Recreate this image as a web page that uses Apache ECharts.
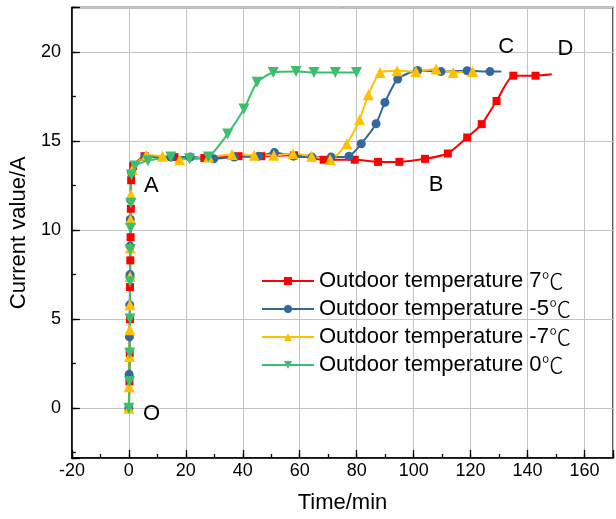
<!DOCTYPE html>
<html>
<head>
<meta charset="utf-8">
<script src="https://cdn.jsdelivr.net/npm/echarts@6/dist/echarts.min.js"></script>
<style>
    html, body { margin: 0; padding: 0; background: #fff; }
    #chart { width: 616px; height: 519px; }
</style>
</head>
<body>
<div id="chart"></div>
<script>
// series names (legend order)
const names = ['Outdoor temperature 7℃', 'Outdoor temperature -5℃', 'Outdoor temperature -7℃', 'Outdoor temperature 0℃'];

// [time/min, current/A]
const t7 = [
    [0, 0], [0.2, 1.5], [0.3, 3.1], [0.4, 5.0], [0.4, 6.8], [0.5, 8.3], [0.6, 9.6], [0.7, 11.2], [0.8, 12.8], [1.5, 13.6],
    [5.5, 14.15], [16, 14.1], [26.5, 14.05], [38.5, 14.15], [46.5, 14.15], [58, 14.2], [68.4, 13.95], [79.3, 13.95],
    [87.5, 13.83], [95, 13.83], [104, 14.0], [112, 14.3], [118.8, 15.2], [123.9, 15.95], [129.1, 17.25], [135, 18.67], [142.8, 18.67]
];
const t7End = [148.5, 18.75];

const tm5 = [
    [0, 0], [0.1, 1.9], [0.2, 4.0], [0.3, 5.8], [0.4, 7.5], [0.4, 9.1], [0.5, 10.6], [0.6, 11.7], [0.9, 13.2],
    [5.6, 14.1], [14.7, 14.1], [21.5, 14.1], [29.8, 14.0], [37, 14.1], [45.6, 14.15], [51.1, 14.35], [57.8, 14.15],
    [64.3, 14.1], [71, 14.1], [77.3, 14.15], [81.6, 14.85], [86.8, 15.97], [89.9, 17.17], [94.4, 18.48],
    [101.4, 18.96], [109.6, 18.9], [118.8, 18.95], [126.8, 18.9]
];
const tm5End = [130.8, 18.9];

const tm7 = [
    [0, 0], [0.1, 1.2], [0.2, 2.9], [0.3, 4.4], [0.4, 5.8], [0.4, 7.4], [0.5, 9.0], [0.6, 10.6], [0.7, 12.0], [1.2, 13.4],
    [6.1, 14.2], [11.8, 14.15], [17.8, 13.95], [28, 14.1], [36.2, 14.25], [44, 14.2], [50.9, 14.2], [57.6, 14.3],
    [64.2, 14.15], [70.7, 13.96], [76.5, 14.85], [81, 16.2], [84.1, 17.6], [88.2, 18.85], [94.2, 18.95],
    [100.8, 18.9], [107.9, 19.05], [113.9, 18.85], [120.7, 18.9]
];

const t0 = [
    [0, 0], [0.2, 1.5], [0.3, 3.1], [0.4, 5.0], [0.4, 7.1], [0.5, 8.9], [0.6, 10.1], [0.7, 11.5], [0.9, 13.1], [2.1, 13.6],
    [6.7, 13.9], [14.7, 14.1], [21.3, 14.0], [27.9, 14.1], [34.7, 15.4], [40.4, 16.8], [45, 18.3], [50.7, 18.85],
    [58.7, 18.9], [65, 18.85], [72.5, 18.85], [79.9, 18.85]
];

// point letters
const pointLabels = ['O', 'A', 'B', 'C', 'D'];
const pointPos = [[8, -0.35], [7.9, 12.5], [107.9, 12.55], [132.5, 20.3], [153.3, 20.2]];

const font = '"Liberation Sans", Arial, sans-serif';

const withEnd = (pts, end) => {
    const d = pts.map(p => p.slice());
    if (end) d.push({ value: end, symbol: 'none' });
    return d;
};

const lineSeries = (name, data, color, symbol, size, rotate) => ({
    name: name,
    type: 'line',
    data: data,
    smooth: 0.2,
    symbol: symbol,
    symbolSize: size,
    symbolRotate: rotate || 0,
    showAllSymbol: true,
    color: color,
    lineStyle: { width: 2, color: color },
    itemStyle: { color: color }
});

const myChart = echarts.init(document.getElementById('chart'));
const option = {
    animation: false,
    textStyle: { fontFamily: font },
    grid: {
        left: 66, right: -3, top: 7.5, bottom: 60,
        show: true, borderColor: '#000', borderWidth: 1.3
    },
    legend: {
        orient: 'vertical',
        left: 261, top: 270, padding: 0,
        itemWidth: 52, itemHeight: 10, itemGap: 6,
        data: names,
        formatter: n => n.replace('℃', '{c|℃}'),
        textStyle: {
            fontSize: 22, color: '#000', fontFamily: font,
            rich: { c: { fontSize: 22, color: '#000', fontFamily: '"Noto Sans CJK SC"', fontWeight: 300 } }
        }
    },
    xAxis: [{
        type: 'value', min: -20, max: 170, interval: 20,
        name: 'Time/min', nameLocation: 'middle', nameGap: 34,
        nameTextStyle: { fontSize: 22, color: '#000', fontFamily: font },
        axisLine: { show: true, onZero: false, lineStyle: { color: '#000', width: 1.5 } },
        axisTick: { show: true, inside: true, length: 8, lineStyle: { color: '#000', width: 1.3 } },
        axisLabel: {
            color: '#000', fontSize: 18, margin: 4, fontFamily: font,
            formatter: v => (v % 20 === 0 && v <= 160 ? String(v) : '')
        },
        splitLine: { show: true, lineStyle: { color: '#c4c4c4', width: 1 } }
    }, {
        // minor ticks
        type: 'value', min: -20, max: 170, interval: 10, position: 'bottom',
        axisLine: { show: false, onZero: false },
        axisTick: { show: true, inside: true, length: 4, lineStyle: { color: '#000', width: 1.3 } },
        axisLabel: { show: false },
        splitLine: { show: false }
    }],
    yAxis: [{
        type: 'value', min: -2.8, max: 22.5, minInterval: 5, maxInterval: 5,
        name: 'Current value/A', nameLocation: 'middle', nameGap: 37,
        nameTextStyle: { fontSize: 22, color: '#000', fontFamily: font },
        axisLine: { show: true, onZero: false, lineStyle: { color: '#000', width: 1.5 } },
        axisTick: { show: true, inside: true, length: 8, lineStyle: { color: '#000', width: 1.3 } },
        axisLabel: {
            color: '#000', fontSize: 18, margin: 11, fontFamily: font,
            formatter: v => (Math.abs(v % 5) < 1e-6 ? String(v) : '')
        },
        splitLine: { show: true, lineStyle: { color: '#c4c4c4', width: 1 } }
    }, {
        // minor ticks
        type: 'value', min: -2.8, max: 22.5, minInterval: 2.5, maxInterval: 2.5, position: 'left',
        axisLine: { show: false, onZero: false },
        axisTick: { show: true, inside: true, length: 4, lineStyle: { color: '#000', width: 1.3 } },
        axisLabel: { show: false },
        splitLine: { show: false }
    }],
    series: [
        lineSeries(names[0], withEnd(t7, t7End), '#ff0000', 'rect', 8),
        lineSeries(names[1], withEnd(tm5, tm5End), '#33679e', 'circle', 9),
        lineSeries(names[2], withEnd(tm7), '#ffc000', 'triangle', 11),
        lineSeries(names[3], withEnd(t0), '#3cbf6c', 'triangle', 11, 180),
        {
            type: 'scatter',
            symbolSize: 0,
            silent: true,
            itemStyle: { opacity: 1 },
            data: pointPos.map((p, i) => ({ value: p, name: pointLabels[i] })),
            label: {
                show: true, position: 'inside', formatter: '{b}',
                fontSize: 22, color: '#000', opacity: 1, fontFamily: font
            }
        }
    ]
};
myChart.setOption(option);
window.addEventListener('resize', function () {
    myChart.resize();
});
</script>
</body>
</html>
